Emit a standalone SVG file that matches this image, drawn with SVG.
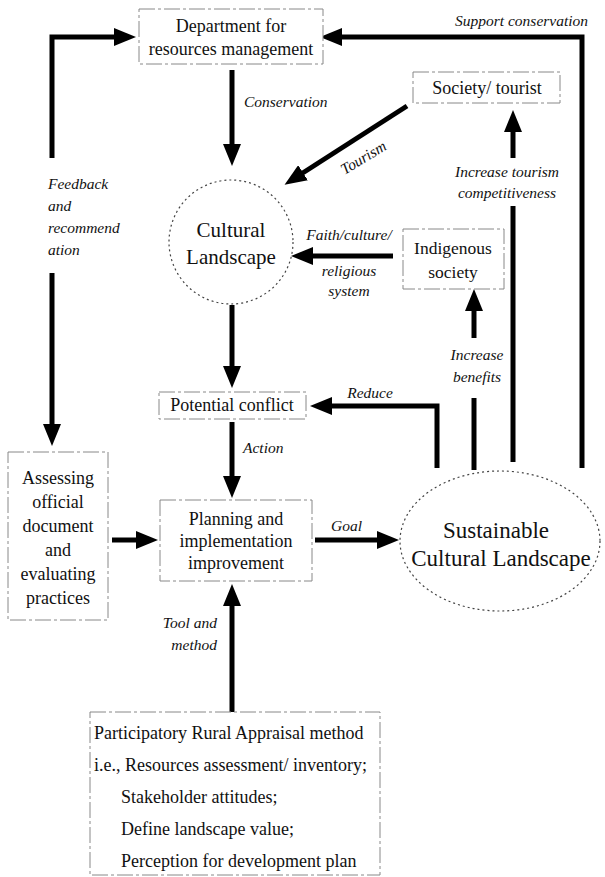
<svg xmlns="http://www.w3.org/2000/svg" width="605" height="877" viewBox="0 0 605 877">
<defs>
<marker id="ah" viewBox="0 0 22 18" refX="6" refY="9" markerWidth="22" markerHeight="18" markerUnits="userSpaceOnUse" orient="auto">
<path d="M0,0 L22,9 L0,18 z" fill="#000"/>
</marker>
<style>
.box{fill:#fff;stroke:#888;stroke-width:1;stroke-dasharray:16 3 3 3}
.ell{fill:none;stroke:#444;stroke-width:1.2;stroke-dasharray:2 3}
.t{font-family:"Liberation Serif","Times New Roman",serif;fill:#111;text-anchor:middle}
.s{text-anchor:start}
.l{font-family:"Liberation Serif","Times New Roman",serif;font-style:italic;font-size:15.5px;fill:#111}
.m{text-anchor:middle}
.e{text-anchor:end}
.c{stroke:#000;stroke-width:5;fill:none}
.a{stroke:#000;stroke-width:5;fill:none;marker-end:url(#ah)}
</style>
</defs>
<rect width="605" height="877" fill="#fff"/>
<g id="connectors">
<path class="a" d="M52,158 V37 H120"/>
<path class="a" d="M52,273 V430"/>
<path class="a" d="M582,468 V37 H336"/>
<path class="a" d="M232,70 V150"/>
<path class="a" d="M407,106 L298,176"/>
<path class="a" d="M393,256 H307"/>
<path class="a" d="M232,305 V372"/>
<path class="a" d="M513,158 V126"/>
<path class="c" d="M513,206 V462"/>
<path class="a" d="M474,338 V305"/>
<path class="c" d="M474,398 V470"/>
<path class="a" d="M437,468 V406 H326"/>
<path class="a" d="M232,422 V482"/>
<path class="a" d="M112,540 H142"/>
<path class="a" d="M315,540 H383"/>
<path class="a" d="M232,712 V600"/>
<text class="l" x="455" y="26">Support conservation</text>
<text class="l" x="244" y="107">Conservation</text>
<text class="l m" transform="translate(366,162) rotate(-31)">Tourism</text>
<text class="l m" x="507" y="177">Increase tourism</text>
<text class="l m" x="507" y="198">competitiveness</text>
<text class="l" x="48" y="189">Feedback</text>
<text class="l" x="48" y="211">and</text>
<text class="l" x="48" y="233">recommend</text>
<text class="l" x="48" y="255">ation</text>
<text class="l m" x="349" y="240">Faith/culture/</text>
<text class="l m" x="349" y="276">religious</text>
<text class="l m" x="349" y="296">system</text>
<text class="l m" x="477" y="360">Increase</text>
<text class="l m" x="477" y="382">benefits</text>
<text class="l m" x="370" y="398">Reduce</text>
<text class="l" x="243" y="453">Action</text>
<text class="l" x="331" y="531">Goal</text>
<text class="l e" x="217" y="628">Tool and</text>
<text class="l e" x="217" y="650">method</text>
</g>
<g id="dept">
<rect class="box" x="139" y="9" width="184" height="55"/>
<text class="t" x="231" y="32" font-size="18">Department for</text>
<text class="t" x="231" y="55" font-size="18">resources management</text>
</g>
<g id="society">
<rect class="box" x="413" y="72" width="147" height="31"/>
<text class="t" x="487" y="94" font-size="18">Society/ tourist</text>
</g>
<g id="cultural">
<circle class="ell" cx="231" cy="242" r="62"/>
<text class="t" x="231" y="237" font-size="21">Cultural</text>
<text class="t" x="231" y="264" font-size="21">Landscape</text>
</g>
<g id="indigenous">
<rect class="box" x="403" y="229" width="101" height="60"/>
<text class="t" x="453" y="254" font-size="17.5">Indigenous</text>
<text class="t" x="453" y="278" font-size="17.5">society</text>
</g>
<g id="conflict">
<rect class="box" x="159" y="392" width="147" height="27"/>
<text class="t" x="232" y="411" font-size="18">Potential conflict</text>
</g>
<g id="assessing">
<rect class="box" x="8" y="452" width="100" height="168"/>
<text class="t" x="58" y="484" font-size="18">Assessing</text>
<text class="t" x="58" y="508" font-size="18">official</text>
<text class="t" x="58" y="532" font-size="18">document</text>
<text class="t" x="58" y="556" font-size="18">and</text>
<text class="t" x="58" y="580" font-size="18">evaluating</text>
<text class="t" x="58" y="604" font-size="18">practices</text>
</g>
<g id="planning">
<rect class="box" x="160" y="500" width="152" height="81"/>
<text class="t" x="236" y="525" font-size="18">Planning and</text>
<text class="t" x="236" y="547" font-size="18">implementation</text>
<text class="t" x="236" y="569" font-size="18">improvement</text>
</g>
<g id="sustainable">
<ellipse class="ell" cx="500" cy="541" rx="100" ry="70"/>
<text class="t" x="496" y="538" font-size="23">Sustainable</text>
<text class="t" x="501" y="566" font-size="23">Cultural Landscape</text>
</g>
<g id="pra">
<rect class="box" x="90" y="712" width="290" height="163"/>
<text class="t s" x="94" y="739" font-size="18">Participatory Rural Appraisal method</text>
<text class="t s" x="94" y="771" font-size="18">i.e., Resources assessment/ inventory;</text>
<text class="t s" x="121" y="803" font-size="18">Stakeholder attitudes;</text>
<text class="t s" x="121" y="835" font-size="18">Define landscape value;</text>
<text class="t s" x="121" y="867" font-size="18">Perception for development plan</text>
</g>
</svg>
